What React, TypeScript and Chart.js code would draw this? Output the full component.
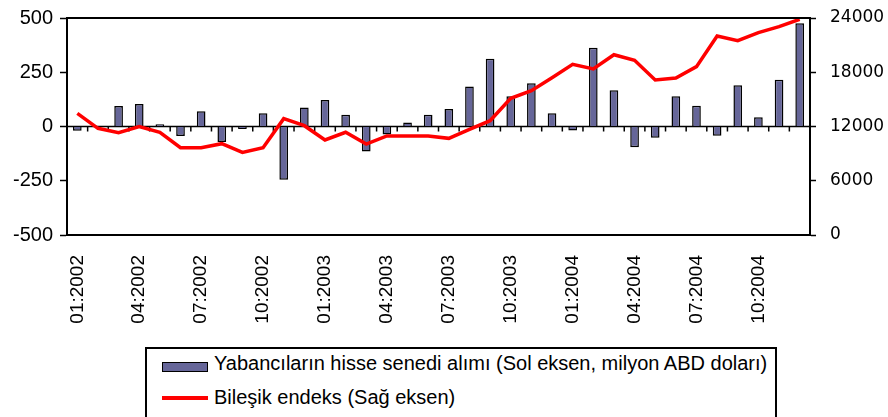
import React, { useEffect, useRef } from "react";
import { Chart, registerables } from "chart.js";

Chart.register(...registerables);

const categories: string[] = [
  "01:2002", "02:2002", "03:2002", "04:2002", "05:2002", "06:2002",
  "07:2002", "08:2002", "09:2002", "10:2002", "11:2002", "12:2002",
  "01:2003", "02:2003", "03:2003", "04:2003", "05:2003", "06:2003",
  "07:2003", "08:2003", "09:2003", "10:2003", "11:2003", "12:2003",
  "01:2004", "02:2004", "03:2004", "04:2004", "05:2004", "06:2004",
  "07:2004", "08:2004", "09:2004", "10:2004", "11:2004", "12:2004",
];

const foreignPurchases: number[] = [
  -20, 0, 95, 104, 10, -44, 70, -72, -11, 61, -245, 88,
  122, 54, -115, -37, 18, 54, 81, 184, 312, 139, 199, 61,
  -18, 363, 167, -96, -52, 139, 96, -43, 190, 43, 216, 476,
];

const compositeIndex: number[] = [
  13460, 11800, 11320, 11980, 11360, 9660, 9660, 10100, 9140, 9660, 12870, 12090,
  10510, 11360, 10060, 10950, 10950, 10950, 10690, 11690, 12640, 15120, 15960, 17400,
  18880, 18360, 19940, 19320, 17140, 17360, 18620, 22010, 21490, 22380, 23040, 23860,
];

const leftTicks: number[] = [-500, -250, 0, 250, 500];
const rightTicks: number[] = [0, 6000, 12000, 18000, 24000];

const barLabel = "Yabancıların hisse senedi alımı (Sol eksen, milyon ABD doları)";
const lineLabel = "Bileşik endeks (Sağ eksen)";

const BAR_COLOR = "#666699";
const LINE_COLOR = "#ff0000";

const framePlugin = {
  id: "framePlugin",
  beforeDatasetsDraw(chart: any) {
    const { ctx, chartArea, scales } = chart;
    const y0 = scales.y.getPixelForValue(0);
    const x = scales.x;
    ctx.save();
    ctx.strokeStyle = "#000";
    ctx.lineWidth = 1.5;
    ctx.beginPath();
    ctx.moveTo(chartArea.left, y0);
    ctx.lineTo(chartArea.right, y0);
    const n = categories.length;
    for (let i = 1; i < n; i++) {
      const px = (x.getPixelForValue(i - 1) + x.getPixelForValue(i)) / 2;
      ctx.moveTo(px, y0);
      ctx.lineTo(px, y0 + 5);
    }
    ctx.stroke();
    ctx.restore();
  },
  afterDatasetsDraw(chart: any) {
    const { ctx, chartArea } = chart;
    ctx.save();
    ctx.strokeStyle = "#000";
    ctx.lineWidth = 2;
    ctx.strokeRect(
      chartArea.left,
      chartArea.top,
      chartArea.right - chartArea.left,
      chartArea.bottom - chartArea.top
    );
    ctx.restore();
  },
};

function App() {
  const canvasRef = useRef<HTMLCanvasElement | null>(null);

  useEffect(() => {
    if (!canvasRef.current) return;
    const chart = new Chart(canvasRef.current, {
      type: "bar",
      data: {
        labels: categories,
        datasets: [
          {
            type: "line",
            label: lineLabel,
            data: compositeIndex,
            yAxisID: "y1",
            borderColor: LINE_COLOR,
            backgroundColor: LINE_COLOR,
            borderWidth: 3.5,
            pointRadius: 0,
            tension: 0,
            order: 0,
          } as any,
          {
            type: "bar",
            label: barLabel,
            data: foreignPurchases,
            yAxisID: "y",
            backgroundColor: BAR_COLOR,
            borderColor: "#000",
            borderWidth: 1.5,
            categoryPercentage: 1,
            barPercentage: 0.42,
            order: 1,
          } as any,
        ],
      },
      options: {
        responsive: false,
        animation: false,
        layout: { padding: { top: 18, left: 0, right: 0, bottom: 0 } },
        plugins: {
          legend: { display: false },
          tooltip: { enabled: false },
        },
        scales: {
          x: {
            type: "category",
            offset: true,
            grid: { display: false },
            border: { display: false },
            afterFit: (s: any) => {
              s.height = 105;
              s.paddingLeft = 0;
              s.paddingRight = 0;
            },
            ticks: {
              autoSkip: false,
              maxRotation: 90,
              minRotation: 90,
              padding: 12,
              color: "#000",
              font: { family: "'Liberation Sans', Arial, sans-serif", size: 19 },
              callback: (_v: any, i: number) => (i % 3 === 0 ? categories[i] : ""),
            },
          },
          y: {
            position: "left",
            min: -500,
            max: 500,
            afterFit: (s: any) => {
              s.width = 67;
              s.paddingTop = 0;
              s.paddingBottom = 0;
            },
            afterBuildTicks: (s: any) => {
              s.ticks = leftTicks.map((v) => ({ value: v }));
            },
            grid: {
              drawOnChartArea: false,
              drawTicks: true,
              tickLength: 7,
              tickColor: "#000",
              tickWidth: 1.5,
            },
            border: { display: true, color: "#000", width: 2 },
            ticks: {
              padding: 7,
              color: "#000",
              font: { family: "'Liberation Sans', Arial, sans-serif", size: 20 },
              callback: (v: any) => String(v),
            },
          },
          y1: {
            position: "right",
            min: 0,
            max: 24000,
            afterFit: (s: any) => {
              s.width = 78;
              s.paddingTop = 0;
              s.paddingBottom = 0;
            },
            afterBuildTicks: (s: any) => {
              s.ticks = rightTicks.map((v) => ({ value: v }));
            },
            grid: {
              drawOnChartArea: false,
              drawTicks: true,
              tickLength: 6,
              tickColor: "#000",
              tickWidth: 1.5,
            },
            border: { display: true, color: "#000", width: 2 },
            ticks: {
              padding: 14,
              color: "#000",
              font: { family: "'DejaVu Sans', Verdana, sans-serif", size: 17 },
              callback: (v: any) => String(v),
            },
          },
        },
      },
      plugins: [framePlugin],
    } as any);
    return () => chart.destroy();
  }, []);

  const legendFont = "'Liberation Sans', Arial, sans-serif";

  return (
    <div
      style={{
        position: "fixed",
        left: 0,
        top: 0,
        width: 888,
        height: 417,
        background: "#fff",
        overflow: "hidden",
      }}
    >
      <canvas
        ref={canvasRef}
        width={888}
        height={340}
        style={{ position: "absolute", left: 0, top: 0, width: 888, height: 340 }}
      />
      <div
        style={{
          position: "absolute",
          left: 145,
          top: 347,
          width: 632,
          height: 90,
          border: "2px solid #000",
          boxSizing: "border-box",
        }}
      />
      <div
        style={{
          position: "absolute",
          left: 162,
          top: 362,
          width: 46,
          height: 10,
          background: BAR_COLOR,
          border: "1.5px solid #000",
          boxSizing: "border-box",
        }}
      />
      <span
        style={{
          position: "absolute",
          left: 214,
          top: 353,
          fontFamily: legendFont,
          fontSize: 20,
          lineHeight: "20px",
          color: "#000",
          whiteSpace: "nowrap",
        }}
      >
        {barLabel}
      </span>
      <div
        style={{
          position: "absolute",
          left: 162,
          top: 396,
          width: 46,
          height: 3.5,
          background: LINE_COLOR,
        }}
      />
      <span
        style={{
          position: "absolute",
          left: 214,
          top: 387,
          fontFamily: legendFont,
          fontSize: 20,
          lineHeight: "20px",
          color: "#000",
          whiteSpace: "nowrap",
        }}
      >
        {lineLabel}
      </span>
    </div>
  );
}

export default App;
